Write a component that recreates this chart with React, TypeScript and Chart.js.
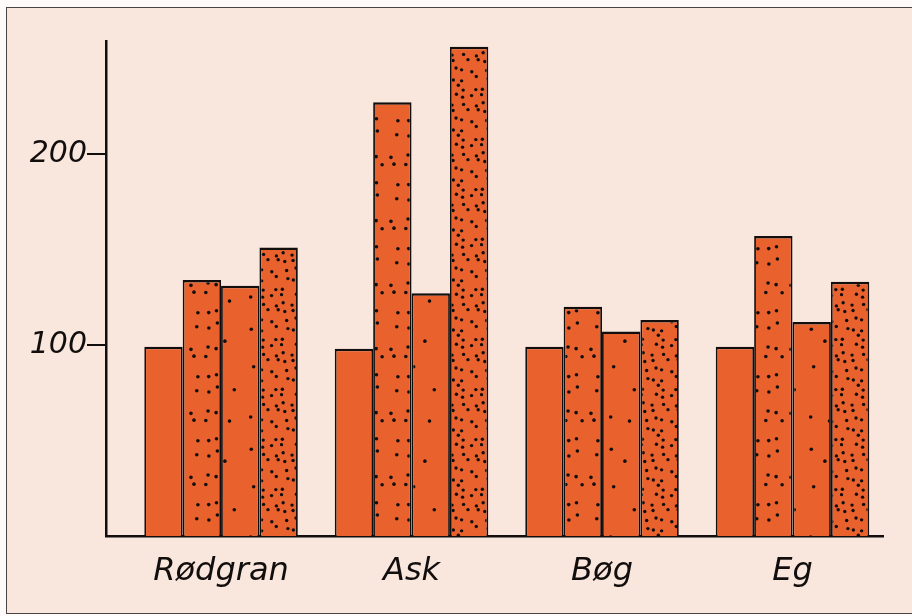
import React, { useEffect, useRef } from 'react';
import { Chart, registerables } from 'chart.js';

Chart.register(...registerables);

const categories = ['Rødgran', 'Ask', 'Bøg', 'Eg'];
const seriesPlain = [99, 98, 99, 99];
const seriesMedium = [134, 227, 120, 157];
const seriesSparse = [131, 127, 107, 112];
const seriesDense = [151, 256, 113, 133];
const yTicks = [100, 200];

const ORANGE = '#e9622e';
const INK = '#120e0e';
const FONT = "'DejaVu Sans', 'Liberation Sans', sans-serif";

function makeDotPattern(w: number, h: number, cols: number, rows: number, seed: number, r: number) {
  const c = document.createElement('canvas');
  c.width = w;
  c.height = h;
  const ctx = c.getContext('2d')!;
  ctx.fillStyle = ORANGE;
  ctx.fillRect(0, 0, w, h);
  let s = seed;
  const rnd = () => {
    s = (s * 1103515245 + 12345) % 2147483648;
    return s / 2147483648;
  };
  const cw = w / cols;
  const ch = h / rows;
  ctx.fillStyle = INK;
  for (let j = 0; j < rows; j++) {
    for (let i = 0; i < cols; i++) {
      const x = i * cw + cw * (0.15 + 0.7 * rnd());
      const y = j * ch + ch * (0.15 + 0.7 * rnd());
      ctx.beginPath();
      ctx.arc(x, y, r, 0, Math.PI * 2);
      ctx.fill();
    }
  }
  return ctx.createPattern(c, 'repeat')!;
}

export default function App() {
  const ref = useRef<HTMLCanvasElement | null>(null);

  useEffect(() => {
    if (!ref.current) return;
    const pMedium = makeDotPattern(40, 64, 3, 4, 17, 1.8);
    const pSparse = makeDotPattern(40, 120, 2, 3, 91, 1.8);
    const pDense = makeDotPattern(40, 50, 4, 6, 53, 1.7);

    const toXY = (arr: number[]) => arr.map((v, i) => ({ x: i, y: v }));
    const common = {
      borderColor: INK,
      borderWidth: { top: 2.5, left: 1.8, right: 1.8, bottom: 0 },
      borderSkipped: 'bottom' as const,
      categoryPercentage: 0.806,
      barPercentage: 1,
    };

    const chart = new Chart(ref.current, {
      type: 'bar',
      data: {
        datasets: [
          { label: 'a', data: toXY(seriesPlain), backgroundColor: ORANGE, ...common },
          { label: 'b', data: toXY(seriesMedium), backgroundColor: pMedium as any, ...common },
          { label: 'c', data: toXY(seriesSparse), backgroundColor: pSparse as any, ...common },
          { label: 'd', data: toXY(seriesDense), backgroundColor: pDense as any, ...common },
        ],
      },
      options: {
        animation: false,
        responsive: false,
        devicePixelRatio: 1,
        layout: { padding: { top: 41, right: 29, left: 0, bottom: 0 } },
        plugins: { legend: { display: false }, tooltip: { enabled: false } },
        scales: {
          x: {
            type: 'linear',
            min: -0.604,
            max: 3.475,
            offset: false,
            grid: { display: false },
            border: { display: true, color: INK, width: 2.5 },
            afterBuildTicks: (s: any) => {
              s.ticks = categories.map((_, i) => ({ value: i }));
            },
            afterFit: (s: any) => {
              s.height = 80;
            },
            ticks: {
              autoSkip: false,
              maxRotation: 0,
              padding: 8,
              color: INK,
              font: { family: FONT, size: 32, style: 'italic' },
              callback: (v: any) => categories[Math.round(Number(v))] ?? '',
            },
          },
          y: {
            type: 'linear',
            min: 0,
            max: 259,
            grid: {
              drawOnChartArea: false,
              drawTicks: true,
              tickLength: 19,
              color: INK,
              lineWidth: 2,
            },
            border: { display: true, color: INK, width: 2.5 },
            afterBuildTicks: (s: any) => {
              s.ticks = yTicks.map((v) => ({ value: v }));
            },
            afterFit: (s: any) => {
              s.width = 106;
            },
            ticks: {
              padding: 0,
              color: INK,
              font: { family: FONT, size: 30, style: 'italic' },
            },
          },
        },
      },
    });
    return () => chart.destroy();
  }, []);

  return (
    <div style={{ position: 'fixed', left: 0, top: 0, width: 912, height: 616, background: '#fdfbfa', overflow: 'hidden' }}>
      <div
        style={{
          position: 'absolute',
          left: 6,
          top: 7,
          width: 906,
          height: 607,
          background: '#f9e6dc',
          borderTop: '1.5px solid #4a4448',
          borderLeft: '1.5px solid #4a4448',
          borderBottom: '1.5px solid #4a4448',
          boxSizing: 'border-box',
        }}
      />
      <canvas ref={ref} width={912} height={616} style={{ position: 'absolute', left: 0, top: 0, display: 'block' }} />
    </div>
  );
}
